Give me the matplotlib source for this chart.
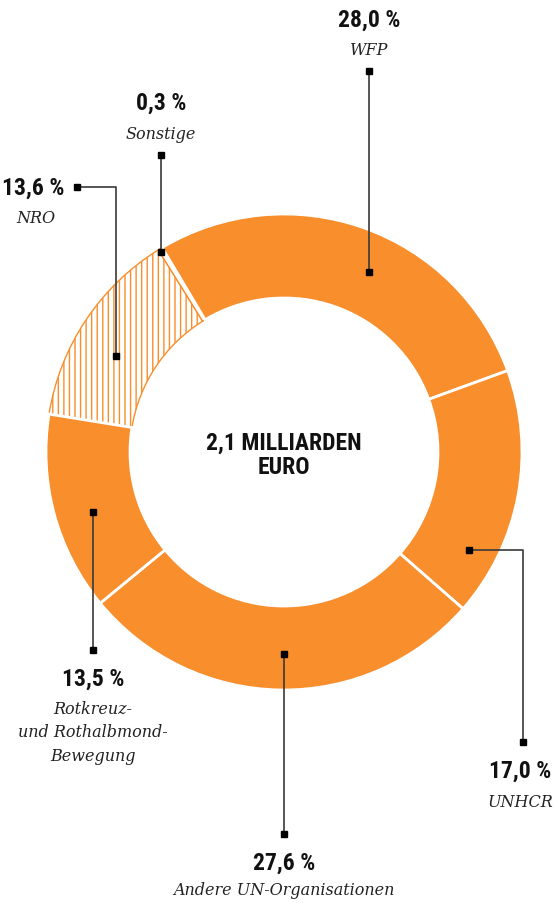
import matplotlib
matplotlib.use("Agg")
import matplotlib.pyplot as plt
from matplotlib import font_manager

# ---- data ----
categories = ["WFP", "UNHCR", "Andere UN-Organisationen",
              "Rotkreuz-\nund Rothalbmond-\nBewegung", "NRO", "Sonstige"]
values = [28.0, 17.0, 27.6, 13.5, 13.6, 0.3]
pct_labels = ["28,0 %", "17,0 %", "27,6 %", "13,5 %", "13,6 %", "0,3 %"]
center_text = "2,1 MILLIARDEN\nEURO"

W, H = 555, 904
ORANGE = "#F98E2C"
LINE = "#3a3a3a"

installed = {f.name for f in font_manager.fontManager.ttflist}
narrow = None
for cand in ["Roboto Condensed", "DejaVu Sans Condensed", "Liberation Sans Narrow",
             "Open Sans Condensed", "Noto Sans Display", "Roboto"]:
    if cand in installed:
        narrow = cand
        break
if narrow is None:
    narrow = "DejaVu Sans"
condensed = narrow != "Roboto" and narrow != "DejaVu Sans"
pct_size = 17 if condensed else 15

fig = plt.figure(figsize=(W / 100, H / 100), dpi=100)
ax = fig.add_axes([0, 0, 1, 1])

def Y(py):
    return H - py

cx, cy = 284, Y(453)
R_out, ring = 238, 84

plt.rcParams["hatch.linewidth"] = 1.0
wedges, _ = ax.pie(values, startangle=120.8, counterclock=False,
                   center=(cx, cy), radius=R_out,
                   wedgeprops=dict(width=ring, linewidth=2, edgecolor="white"),
                   colors=[ORANGE] * len(values))
for i in (4, 5):
    w = wedges[i]
    w.set_facecolor("white")
    w.set_edgecolor(ORANGE)
    w.set_linewidth(1.0)
    w.set_zorder(0.5)
wedges[4].set_hatch("|||")

ax.set_xlim(0, W)
ax.set_ylim(0, H)
ax.set_aspect("equal")
ax.axis("off")

PCT_FONT = dict(family=[narrow, "DejaVu Sans"], weight="bold",
                fontsize=pct_size, color="#111111", va="baseline")
NAME_FONT = dict(family=["DejaVu Serif"], style="italic", fontsize=11.5,
                 color="#222222", va="baseline")

def leader(pts):
    xs = [p[0] for p in pts]
    ys = [Y(p[1]) for p in pts]
    ax.plot(xs, ys, color=LINE, lw=1.2, zorder=3, solid_capstyle="butt")
    ax.plot([xs[0], xs[-1]], [ys[0], ys[-1]], ls="none", marker="s",
            ms=4.5, color="black", zorder=4)

leader([(369, 72), (369, 273)])                       # WFP
leader([(523, 743), (523, 551), (469, 551)])          # UNHCR
leader([(284, 835), (284, 655)])                      # Andere
leader([(93, 651), (93, 513)])                        # Rotkreuz
leader([(77, 188), (116, 188), (116, 357)])           # NRO
leader([(161, 156), (161, 253)])                      # Sonstige

# (pct x, pct align, pct baseline, name x, name align, name baseline)
pos = [
    (369, "center", 27, 369, "center", 55),
    (551, "right", 778, 553, "right", 807),
    (284, "center", 870, 284, "center", 895),
    (93, "center", 686, 93, "center", 714),
    (64, "right", 195, 36, "center", 223),
    (161, "center", 110, 161, "center", 139),
]
for (px, pa, yp, nx, na, yn), pct, name in zip(pos, pct_labels, categories):
    ax.text(px, Y(yp), pct, ha=pa, **PCT_FONT)
    for k, ln in enumerate(name.split("\n")):
        ax.text(nx, Y(yn + k * 23.5), ln, ha=na, **NAME_FONT)

l1, l2 = center_text.split("\n")
ax.text(cx, Y(450), l1, family=[narrow, "DejaVu Sans"], weight="bold",
        fontsize=pct_size, ha="center", va="baseline", color="#111111")
ax.text(cx, Y(474), l2, family=[narrow, "DejaVu Sans"], weight="bold",
        fontsize=pct_size, ha="center", va="baseline", color="#111111")

fig.savefig("out.png", dpi=100)
